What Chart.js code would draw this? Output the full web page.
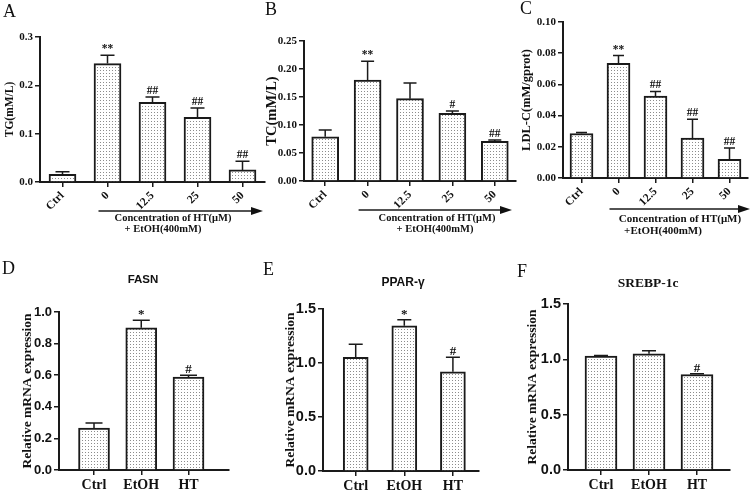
<!DOCTYPE html>
<html><head><meta charset="utf-8">
<script src="https://cdn.jsdelivr.net/npm/chart.js@4.4.1/dist/chart.umd.min.js"></script>
<style>
body{margin:0;background:#fff;width:750px;height:493px;position:relative;overflow:hidden;font-family:'Liberation Serif',serif;color:#111}
canvas{position:absolute}
.t{position:absolute;white-space:nowrap;line-height:1}
.let{font-family:'Liberation Serif',serif;font-size:18px}
.c{transform:translate(-50%,-50%);font-weight:bold}
</style></head><body>
<canvas id="cA" width="270" height="245" style="left:0;top:0"></canvas>
<canvas id="cB" width="265" height="245" style="left:255px;top:0"></canvas>
<canvas id="cC" width="245" height="245" style="left:505px;top:0"></canvas>
<canvas id="cD" width="245" height="243" style="left:0;top:250px"></canvas>
<canvas id="cE" width="245" height="243" style="left:250px;top:250px"></canvas>
<canvas id="cF" width="250" height="243" style="left:500px;top:250px"></canvas>

<div class="t let" style="left:3px;top:2px">A</div>
<div class="t let" style="left:265px;top:0px">B</div>
<div class="t let" style="left:520px;top:-1px">C</div>
<div class="t let" style="left:2px;top:259px">D</div>
<div class="t let" style="left:263px;top:260px">E</div>
<div class="t let" style="left:517px;top:262px">F</div>

<div class="t c" style="left:143px;top:280px;font-family:'Liberation Sans',sans-serif;font-size:11.5px">FASN</div>
<div class="t c" style="left:403px;top:282px;font-family:'Liberation Sans',sans-serif;font-size:12px">PPAR-γ</div>
<div class="t c" style="left:648px;top:283px;font-family:'Liberation Serif',serif;font-size:13.5px">SREBP-1c</div>

<div class="t c" style="left:173px;top:218px;font-size:10.5px">Concentration of HT(μM)</div>
<div class="t c" style="left:163px;top:229px;font-size:10.5px">+ EtOH(400mM)</div>
<div class="t c" style="left:437px;top:218px;font-size:10.5px">Concentration of HT(μM)</div>
<div class="t c" style="left:435px;top:229px;font-size:10.5px">+ EtOH(400mM)</div>
<div class="t c" style="left:680px;top:218px;font-size:11px">Concentration of HT(μM)</div>
<div class="t c" style="left:663px;top:230px;font-size:11px">+EtOH(400mM)</div>

<script>
// ---- data ----
const catTop = ['Ctrl','0','12.5','25','50'];
const catBottom = ['Ctrl','EtOH','HT'];

const tgMean = [0.016, 0.245, 0.165, 0.134, 0.025];
const tgErr  = [0.005, 0.017, 0.011, 0.019, 0.018];
const tgSig  = ['', '**', '##', '##', '##'];
const tgTicks = ['0.0','0.1','0.2','0.3'];

const tcMean = [0.079, 0.180, 0.147, 0.121, 0.071];
const tcErr  = [0.012, 0.034, 0.028, 0.004, 0.002];
const tcSig  = ['', '**', '', '#', '##'];
const tcTicks = ['0.00','0.05','0.10','0.15','0.20','0.25'];

const ldlMean = [0.0285, 0.0735, 0.0525, 0.0256, 0.0120];
const ldlErr  = [0.0007, 0.0050, 0.0030, 0.0120, 0.0072];
const ldlSig  = ['', '**', '##', '##', '##'];
const ldlTicks = ['0.00','0.02','0.04','0.06','0.08','0.10'];

const fasnMean = [0.266, 0.900, 0.588];
const fasnErr  = [0.031, 0.048, 0.012];
const fasnSig  = ['', '*', '#'];
const fasnTicks = ['0.0','0.2','0.4','0.6','0.8','1.0'];

const pparMean = [1.053, 1.345, 0.918];
const pparErr  = [0.120, 0.055, 0.135];
const pparSig  = ['', '*', '#'];

const srebpMean = [1.030, 1.050, 0.863];
const srebpErr  = [0.004, 0.027, 0.007];
const srebpSig  = ['', '', '#'];
const mrnaTicks = ['0.0','0.5','1.0','1.5'];

// ---- drawing ----
const INK = '#1a1a1a';
function dotPattern(ctx){
  const c = document.createElement('canvas'); c.width = 3; c.height = 3;
  const x = c.getContext('2d');
  x.fillStyle = '#fff'; x.fillRect(0,0,3,3);
  x.fillStyle = '#8c8c8c'; x.fillRect(1,1,1,1);
  return ctx.createPattern(c, 'repeat');
}
function annotPlugin(cfg){
  return {
    id: 'annot',
    afterDatasetsDraw(chart){
      const ctx = chart.ctx, ys = chart.scales.y, xs = chart.scales.x, ca = chart.chartArea;
      const meta = chart.getDatasetMeta(0);
      ctx.save();
      ctx.strokeStyle = INK; ctx.fillStyle = '#111'; ctx.lineWidth = 1.5;
      meta.data.forEach((bar, i) => {
        const top = ys.getPixelForValue(cfg.mean[i] + cfg.err[i]);
        const h = cfg.cap / 2;
        ctx.beginPath();
        ctx.moveTo(bar.x, bar.y); ctx.lineTo(bar.x, top);
        ctx.moveTo(bar.x - h, top); ctx.lineTo(bar.x + h, top);
        ctx.stroke();
        if (cfg.sig[i]) {
          ctx.font = cfg.sigFont; ctx.textAlign = 'center'; ctx.textBaseline = 'alphabetic';
          ctx.fillText(cfg.sig[i], bar.x, top - cfg.sigGap);
        }
      });
      if (cfg.arrow) {
        const y = ca.bottom + cfg.arrow.dy;
        const x0 = xs.getPixelForValue(1) - 9;
        const x1 = ca.right + cfg.arrow.dx;
        ctx.lineWidth = 1.5;
        ctx.beginPath(); ctx.moveTo(x0, y); ctx.lineTo(x1 - 8, y); ctx.stroke();
        ctx.beginPath(); ctx.moveTo(x1, y); ctx.lineTo(x1 - 12, y - 4); ctx.lineTo(x1 - 12, y + 4); ctx.closePath(); ctx.fill();
      }
      ctx.restore();
    }
  };
}
function makePanel(cfg){
  const el = document.getElementById(cfg.id);
  const ctx = el.getContext('2d');
  const serifB = (s) => ({family: "'Liberation Serif', serif", weight: 'bold', size: s});
  new Chart(ctx, {
    type: 'bar',
    data: {
      datasets: [{
        data: cfg.mean.map((v, i) => ({x: i, y: v})),
        backgroundColor: dotPattern(ctx),
        borderColor: INK, borderWidth: 2,
        barThickness: cfg.barW
      }]
    },
    options: {
      responsive: false, animation: false,
      layout: {padding: cfg.pad},
      plugins: {legend: {display: false}, tooltip: {enabled: false}},
      scales: {
        x: {
          type: 'linear', min: cfg.xMin, max: cfg.xMax, offset: false,
          grid: {display: true, drawOnChartArea: false, drawTicks: true, tickLength: 5, color: INK, lineWidth: 1.5, offset: false},
          border: {display: true, color: INK, width: 2},
          ticks: {autoSkip: false, maxRotation: cfg.rot, minRotation: cfg.rot, padding: cfg.xPad, color: '#111',
                  font: serifB(cfg.xFont), callback: (v) => (cfg.cats[v] !== undefined ? cfg.cats[v] : '')},
          afterBuildTicks: (s) => { s.ticks = cfg.cats.map((_, i) => ({value: i})); },
          afterFit: (s) => { s.height = cfg.xH; }
        },
        y: {
          type: 'linear', min: 0, max: parseFloat(cfg.yTicks[cfg.yTicks.length - 1]),
          grid: {display: true, drawOnChartArea: false, drawTicks: true, tickLength: 5, color: INK, lineWidth: 1.5},
          border: {display: true, color: INK, width: 2},
          ticks: {padding: 2, color: '#111', font: cfg.yTickFont, callback: (v, i) => cfg.yTicks[i]},
          afterBuildTicks: (s) => { s.ticks = cfg.yTicks.map(t => ({value: parseFloat(t)})); },
          afterFit: (s) => { s.width = cfg.yW; },
          title: {display: true, text: cfg.yTitle, color: '#111', font: serifB(cfg.yTitleSize),
                  padding: {top: cfg.titleX - cfg.yTitleSize * 0.6, bottom: 0}}
        }
      }
    },
    plugins: [annotPlugin(cfg)]
  });
}
const topTickFont = {family: "'Liberation Serif', serif", weight: 'bold', size: 11};
const topCommon = {cats: catTop, xMin: -0.5, xMax: 4.5, rot: 45, xPad: 2, xFont: 11.5,
                   yTickFont: topTickFont, sigFont: "bold 11.5px 'Liberation Serif', serif", sigGap: 3};
const botCommon = {cats: catBottom, rot: 0, xPad: 2, xFont: 14, yTicks: mrnaTicks,
                   yTitle: 'Relative mRNA expression', yTitleSize: 13.5,
                   sigFont: "bold 13px 'Liberation Serif', serif", sigGap: 2};

makePanel(Object.assign({}, topCommon, {id: 'cA', mean: tgMean, err: tgErr, sig: tgSig, yTicks: tgTicks,
  yW: 40, pad: {left: 0, top: 37, right: 5, bottom: 0}, xH: 63, barW: 27, cap: 14,
  yTitle: 'TG(mM/L)', yTitleSize: 11.5, titleX: 10.5, arrow: {dy: 29, dx: -2}}));
makePanel(Object.assign({}, topCommon, {id: 'cB', mean: tcMean, err: tcErr, sig: tcSig, yTicks: tcTicks,
  yW: 49, pad: {left: 0, top: 41, right: 4, bottom: 0}, xH: 64, barW: 27, cap: 13,
  yTitle: 'TC(mM/L)', yTitleSize: 14.5, titleX: 17, arrow: {dy: 29, dx: -4}}));
makePanel(Object.assign({}, topCommon, {id: 'cC', mean: ldlMean, err: ldlErr, sig: ldlSig, yTicks: ldlTicks,
  yW: 58, pad: {left: 0, top: 22, right: 2, bottom: 0}, xH: 67, barW: 23, cap: 11,
  yTitle: 'LDL-C(mM/gprot)', yTitleSize: 12.5, titleX: 22, arrow: {dy: 31, dx: 2}}));

makePanel(Object.assign({}, botCommon, {id: 'cD', mean: fasnMean, err: fasnErr, sig: fasnSig, yTicks: fasnTicks,
  xMin: -0.741, xMax: 2.857, yW: 59, pad: {left: 0, top: 62, right: 16, bottom: 0}, xH: 23, barW: 31, cap: 17,
  yTickFont: {family: "'Liberation Sans', sans-serif", weight: 'bold', size: 13}, titleX: 27.5}));
makePanel(Object.assign({}, botCommon, {id: 'cE', mean: pparMean, err: pparErr, sig: pparSig,
  xMin: -0.673, xMax: 2.537, yW: 73, pad: {left: 0, top: 59, right: 16, bottom: 0}, xH: 22, barW: 25, cap: 14,
  yTickFont: {family: "'Liberation Sans', sans-serif", weight: 'bold', size: 14.5}, titleX: 41}));
makePanel(Object.assign({}, botCommon, {id: 'cF', mean: srebpMean, err: srebpErr, sig: srebpSig,
  xMin: -0.6875, xMax: 2.6875, yW: 68, pad: {left: 0, top: 54, right: 20, bottom: 0}, xH: 23, barW: 32, cap: 14,
  yTickFont: {family: "'Liberation Sans', sans-serif", weight: 'bold', size: 14.5}, titleX: 33}));
</script>
</body></html>
